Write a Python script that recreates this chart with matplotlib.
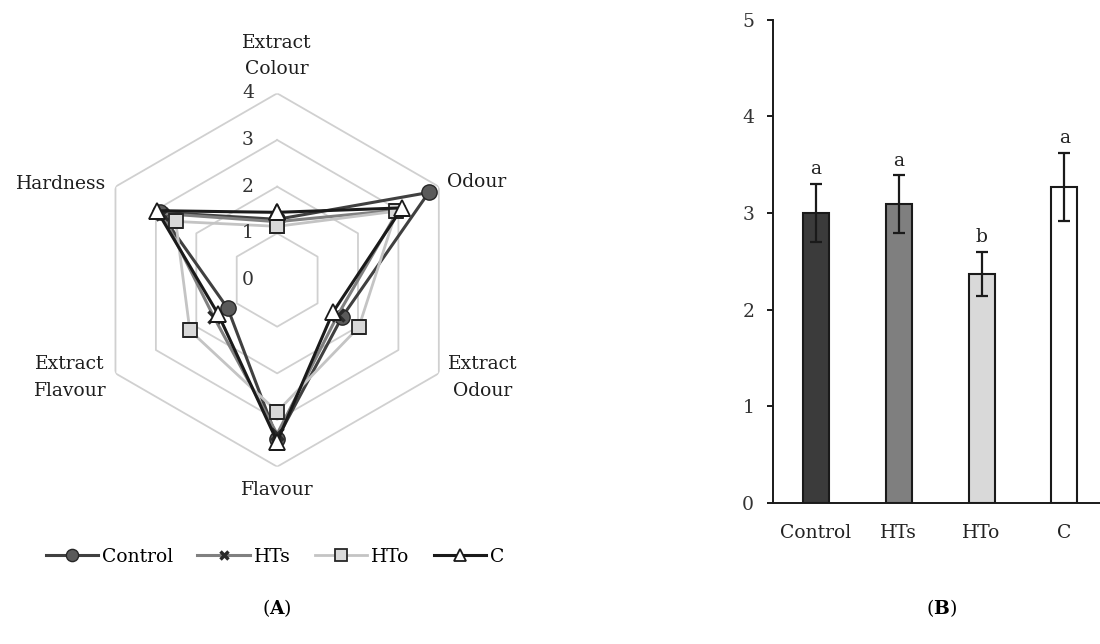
import numpy as np
from matplotlib import pyplot as plt

plt.rcParams['font.family'] = ['DejaVu Serif']
plt.rcParams['mathtext.fontset'] = 'dejavuserif'
plt.rcParams['font.size'] = 13.5

# panel A: sensory profile (radar)
attributes = ['Extract\nColour', 'Odour', 'Extract\nOdour', 'Flavour', 'Extract\nFlavour', 'Hardness']
control = [1.30, 3.75, 1.60, 3.40, 1.22, 2.90]
hts = [1.25, 3.00, 1.50, 3.30, 1.57, 2.85]
hto = [1.15, 2.95, 2.02, 2.82, 2.16, 2.51]
c_vals = [1.45, 3.09, 1.38, 3.46, 1.46, 2.97]
ring_levels = [0, 1, 2, 3, 4]

# panel B: overall score
groups = ['Control', 'HTs', 'HTo', 'C']
means = [3.00, 3.09, 2.37, 3.27]
errors = [0.30, 0.30, 0.23, 0.35]
letters = ['a', 'a', 'b', 'a']


def closed(values):
    return list(values) + [values[0]]


def main():
    fig = plt.figure(figsize=(11, 6.44), dpi=100)

    # ---- radar ----
    ax = fig.add_axes([0.0822, 0.2753, 0.3395, 0.5798], projection='polar')
    ax.set_theta_zero_location('N')
    ax.set_theta_direction(-1)
    theta = np.arange(len(attributes)) * 2 * np.pi / len(attributes)
    th = closed(list(theta))

    for r in ring_levels[1:]:
        ax.plot(th, [r] * len(th), color='#d0d0d0', lw=1.3, zorder=1)

    series = [
        ('Control', control, dict(color='#404040', marker='o', markerfacecolor='#5a5a5a',
                                  markeredgecolor='#262626', markersize=11, lw=2.2)),
        ('HTs', hts, dict(color='#808080', marker='x', markeredgecolor='#2a2a2a',
                          markeredgewidth=2.5, markersize=8, lw=2.2)),
        ('HTo', hto, dict(color='#c4c4c4', marker='s', markerfacecolor='#d9d9d9',
                          markeredgecolor='#262626', markeredgewidth=1.3, markersize=10, lw=2.0)),
        ('C', c_vals, dict(color='#1a1a1a', marker='^', markerfacecolor='white',
                           markeredgecolor='#1a1a1a', markeredgewidth=1.3, markersize=11, lw=2.2)),
    ]
    handles = []
    for name, vals, style in series:
        line, = ax.plot(th, closed(vals), label=name, zorder=3, **style)
        handles.append(line)

    ax.set_ylim(0, 4)
    ax.set_xticks([])
    ax.set_yticks([])
    ax.grid(False)
    ax.spines['polar'].set_visible(False)
    ax.patch.set_alpha(0)

    for r in ring_levels:
        ax.annotate(str(r), xy=(0, r), xytext=(-21, 0), textcoords='offset points',
                    ha='center', va='center', color='#333333')

    label_pos = [
        dict(xytext=(0, 11), ha='center', va='bottom'),
        dict(xytext=(6, 3), ha='left', va='center'),
        dict(xytext=(6.5, -3), ha='left', va='center'),
        dict(xytext=(0, -10), ha='center', va='top'),
        dict(xytext=(-6.5, -3), ha='right', va='center'),
        dict(xytext=(-6.5, 2), ha='right', va='center'),
    ]
    for t, lab, pos in zip(theta, attributes, label_pos):
        ax.annotate(lab, xy=(t, 4), textcoords='offset points', multialignment='center',
                    linespacing=1.6, color='#1e1e1e', **pos)

    fig.legend(handles=handles, loc='center', bbox_to_anchor=(275 / 1100, 1 - 557 / 644),
               ncol=4, frameon=False, handlelength=2.8, handletextpad=0.2,
               columnspacing=1.3, markerscale=0.8)

    # ---- bars ----
    ax2 = fig.add_axes([0.7027, 0.2189, 0.2973, 0.7508])
    x = np.arange(len(groups))
    ax2.bar(x, means, width=0.315, color=['#3b3b3b', '#7f7f7f', '#d9d9d9', 'white'],
            edgecolor='#1a1a1a', linewidth=1.5, yerr=errors, capsize=4,
            error_kw=dict(elinewidth=1.6, capthick=1.6, ecolor='#1a1a1a'))
    for xi, m, e, lt in zip(x, means, errors, letters):
        ax2.annotate(lt, xy=(xi, m + e), xytext=(0, 4), textcoords='offset points',
                     ha='center', va='bottom', color='#222222')
    ax2.set_xlim(-0.52, 3.43)
    ax2.set_ylim(0, 5)
    ax2.set_yticks(range(6))
    ax2.set_xticks(x)
    ax2.set_xticklabels(groups)
    ax2.spines['top'].set_visible(False)
    ax2.spines['right'].set_visible(False)
    for s in ('left', 'bottom'):
        ax2.spines[s].set_linewidth(1.4)
        ax2.spines[s].set_color('#1a1a1a')
    ax2.tick_params(axis='y', length=4.5, width=1.4, pad=9, colors='#1a1a1a', labelcolor='#333333')
    ax2.tick_params(axis='x', length=0, pad=15, labelcolor='#222222')

    fig.text(277 / 1100, 1 - 608 / 644, r'($\mathbf{A}$)', ha='center', va='center')
    fig.text(942 / 1100, 1 - 608 / 644, r'($\mathbf{B}$)', ha='center', va='center')

    fig.savefig('out.png', dpi=100)


if __name__ == '__main__':
    main()
